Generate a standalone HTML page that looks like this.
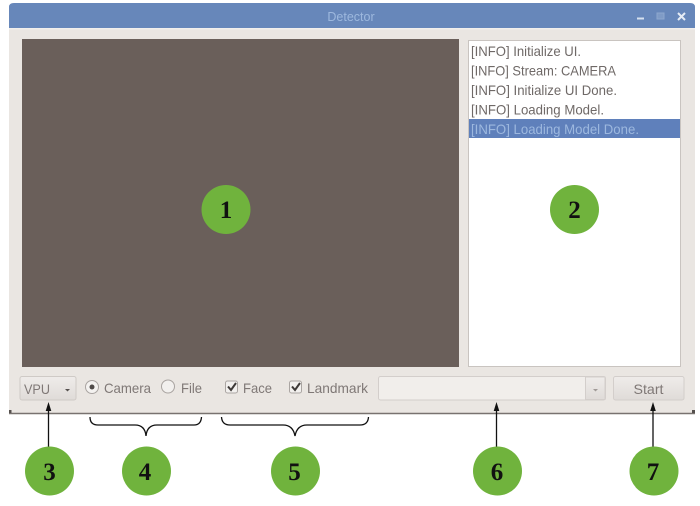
<!DOCTYPE html>
<html><head><meta charset="utf-8"><style>
html,body{margin:0;padding:0;background:#fff}
body{width:700px;height:506px;overflow:hidden;position:relative}
svg{position:absolute;left:0;top:0;display:block}
text{font-family:"Liberation Sans",sans-serif}
.g{fill:#7f7876;font-size:14px}
.l{fill:#6f6967;font-size:14px}
.n{font-family:"Liberation Serif",serif;font-size:25px;font-weight:bold;fill:#111;text-anchor:middle}
.soft{filter:blur(.35px)}
</style></head><body>
<svg width="700" height="506" viewBox="0 0 700 506">
<defs>
<linearGradient id="b" x1="0" y1="0" x2="0" y2="1"><stop offset="0" stop-color="#efecea"/><stop offset="1" stop-color="#dfdbd8"/></linearGradient>
</defs>
<g class="soft">
<!-- window -->
<path d="M9 414V8Q9 3 14 3H689Q695 3 695 8V414Z" fill="#eae6e2"/>
<path d="M9 28V7Q9 3 14 3H690Q695 3 695 7V28Z" fill="#6787ba"/>
<rect x="9" y="28" width="686" height="1.500" fill="#f2efec"/>
<line x1="9" y1="413.500" x2="695" y2="413.500" stroke="#78726f" stroke-width="1.500"/>
<path d="M9 410h2.500v3H9zM692 410h3v3h-3z" fill="#55504d"/>
<text x="351" y="21" text-anchor="middle" font-size="12.500" fill="#9db8de">Detector</text>
<rect x="637" y="17.500" width="7" height="2" fill="#d6e0ef"/>
<rect x="657" y="13" width="7" height="6" fill="#7f9bc6" stroke="#8ea7cd"/>
<path d="M678 13L685 20M685 13L678 20" stroke="#e6ecf5" stroke-width="2"/>
<!-- video -->
<rect x="22" y="39" width="437" height="328" fill="#6a5f5a"/>
<!-- list -->
<rect x="468.500" y="40.500" width="212" height="326" fill="#fff" stroke="#c9c4c0"/>
<rect x="469" y="119" width="211" height="19" fill="#5f80bb"/>
<text class="l" x="471" y="56" textLength="110" lengthAdjust="spacingAndGlyphs">[INFO] Initialize UI.</text>
<text class="l" x="471" y="75.500" textLength="145" lengthAdjust="spacingAndGlyphs">[INFO] Stream: CAMERA</text>
<text class="l" x="471" y="95" textLength="146" lengthAdjust="spacingAndGlyphs">[INFO] Initialize UI Done.</text>
<text class="l" x="471" y="114.500" textLength="133" lengthAdjust="spacingAndGlyphs">[INFO] Loading Model.</text>
<text x="471" y="134" font-size="14" fill="#9db8df" textLength="168" lengthAdjust="spacingAndGlyphs">[INFO] Loading Model Done.</text>
<!-- bottom controls -->
<rect x="20" y="376.500" width="56" height="23.500" rx="2" fill="url(#b)" stroke="#cfcac6"/>
<text class="g" x="24" y="394" textLength="26" lengthAdjust="spacingAndGlyphs">VPU</text>
<path d="M65 389h5l-2.500 2.500z" fill="#55504e"/>
<circle cx="92" cy="387" r="6.500" fill="#f4f2f0" stroke="#a9a4a1"/>
<circle cx="92" cy="387" r="2.500" fill="#4f4a48"/>
<text class="g" x="104" y="393" textLength="47" lengthAdjust="spacingAndGlyphs">Camera</text>
<circle cx="168" cy="386.500" r="6.500" fill="#f2f0ee" stroke="#a9a4a1"/>
<text class="g" x="181" y="393" textLength="21" lengthAdjust="spacingAndGlyphs">File</text>
<rect x="225.500" y="381" width="12" height="12" rx="2" fill="#f2f0ee" stroke="#aaa5a2"/>
<path d="M228 386.500l3 3.500l5-7" fill="none" stroke="#3e3a38" stroke-width="2"/>
<text class="g" x="243" y="393" textLength="29" lengthAdjust="spacingAndGlyphs">Face</text>
<rect x="289.500" y="381" width="12" height="12" rx="2" fill="#f2f0ee" stroke="#aaa5a2"/>
<path d="M292 386.500l3 3.500l5-7" fill="none" stroke="#3e3a38" stroke-width="2"/>
<text class="g" x="307" y="393" textLength="61" lengthAdjust="spacingAndGlyphs">Landmark</text>
<rect x="378.500" y="376.500" width="227" height="23.500" rx="2" fill="#f1eeeb" stroke="#d3cecb"/>
<path d="M585.500 377H605V399.500H585.500Z" fill="url(#b)" stroke="#d3cecb"/>
<path d="M593 389h5l-2.500 2.500z" fill="#a09a97"/>
<rect x="613.500" y="376.500" width="70.500" height="23.500" rx="2" fill="url(#b)" stroke="#d3cecb"/>
<text class="g" x="648.500" y="394" text-anchor="middle" textLength="30" lengthAdjust="spacingAndGlyphs">Start</text>
</g>
<!-- arrows -->
<g stroke="#111" stroke-width="1.300" fill="none">
<line x1="48.500" y1="408" x2="48.500" y2="447"/>
<line x1="496.500" y1="408" x2="496.500" y2="447"/>
<line x1="653" y1="408" x2="653" y2="447"/>
<path d="M90 417Q90 425 98 425H135Q145 425 146 436Q147 425 157 425H194Q201 425 201.500 417"/>
<path d="M221.500 417Q222 425 230 425H283Q293 425 295 436Q297 425 307 425H360Q368 425 368.500 417"/>
</g>
<path d="M48.500 402l-2.800 9h5.600z M496.500 402l-2.800 9h5.600z M653 402l-2.800 9h5.600z" fill="#111"/>
<!-- circles -->
<g fill="#70b33d">
<circle cx="226" cy="209.500" r="24.500"/>
<circle cx="574.500" cy="209.500" r="24.500"/>
<circle cx="49.500" cy="471" r="24.500"/>
<circle cx="146.500" cy="471" r="24.500"/>
<circle cx="295.500" cy="471" r="24.500"/>
<circle cx="497.500" cy="471" r="24.500"/>
<circle cx="654" cy="471" r="24.500"/>
</g>
<text class="n" x="226" y="218">1</text>
<text class="n" x="574.500" y="218">2</text>
<text class="n" x="49.500" y="480">3</text>
<text class="n" x="145" y="480">4</text>
<text class="n" x="294.500" y="480">5</text>
<text class="n" x="497" y="480">6</text>
<text class="n" x="653" y="480">7</text>
</svg>
</body></html>
